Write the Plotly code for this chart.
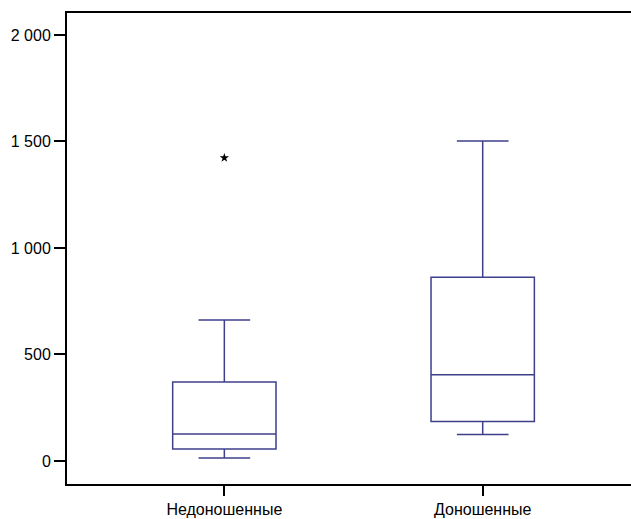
import plotly.graph_objects as go

categories = ["Недоношенные", "Доношенные"]
lower_whisker = [14, 124]
q1_vals = [56, 185]
medians = [127, 405]
q3_vals = [371, 862]
upper_whisker = [662, 1502]
outlier_cat = ["Недоношенные"]
outlier_vals = [1423]
tick_vals = [0, 500, 1000, 1500, 2000]
tick_text = ["0", "500", "1 000", "1 500", "2 000"]

line_col = "#3f3f8c"

fig = go.Figure()
fig.add_trace(go.Box(
    x=categories,
    q1=q1_vals, median=medians, q3=q3_vals,
    lowerfence=lower_whisker, upperfence=upper_whisker,
    width=0.4, whiskerwidth=0.5,
    fillcolor="rgba(0,0,0,0)",
    line=dict(color=line_col, width=1.5),
    boxpoints=False, showlegend=False, hoverinfo="skip",
))
fig.add_trace(go.Scatter(
    x=outlier_cat, y=outlier_vals, mode="markers",
    marker=dict(symbol="star", size=7, color="black"),
    showlegend=False,
))

fig.update_layout(
    width=631, height=519,
    margin=dict(l=67, r=0, t=13, b=35),
    paper_bgcolor="white", plot_bgcolor="white",
    font=dict(family="Liberation Sans, Arial, sans-serif", size=16, color="black"),
)
fig.update_xaxes(
    type="category", range=[-0.609, 1.574],
    showline=True, linecolor="black", linewidth=2, mirror=True,
    ticks="outside", ticklen=10, tickcolor="black", tickwidth=1.5,
    showgrid=False, zeroline=False,
)
fig.update_yaxes(
    range=[-108, 2103],
    tickvals=tick_vals, ticktext=tick_text,
    showline=True, linecolor="black", linewidth=2, mirror=False,
    ticks="outside", ticklen=11, tickcolor="black", tickwidth=1.5,
    showgrid=False, zeroline=False,
)

fig.write_html("out.html", post_script="document.body.style.margin='0';",
               config={"displayModeBar": False})
